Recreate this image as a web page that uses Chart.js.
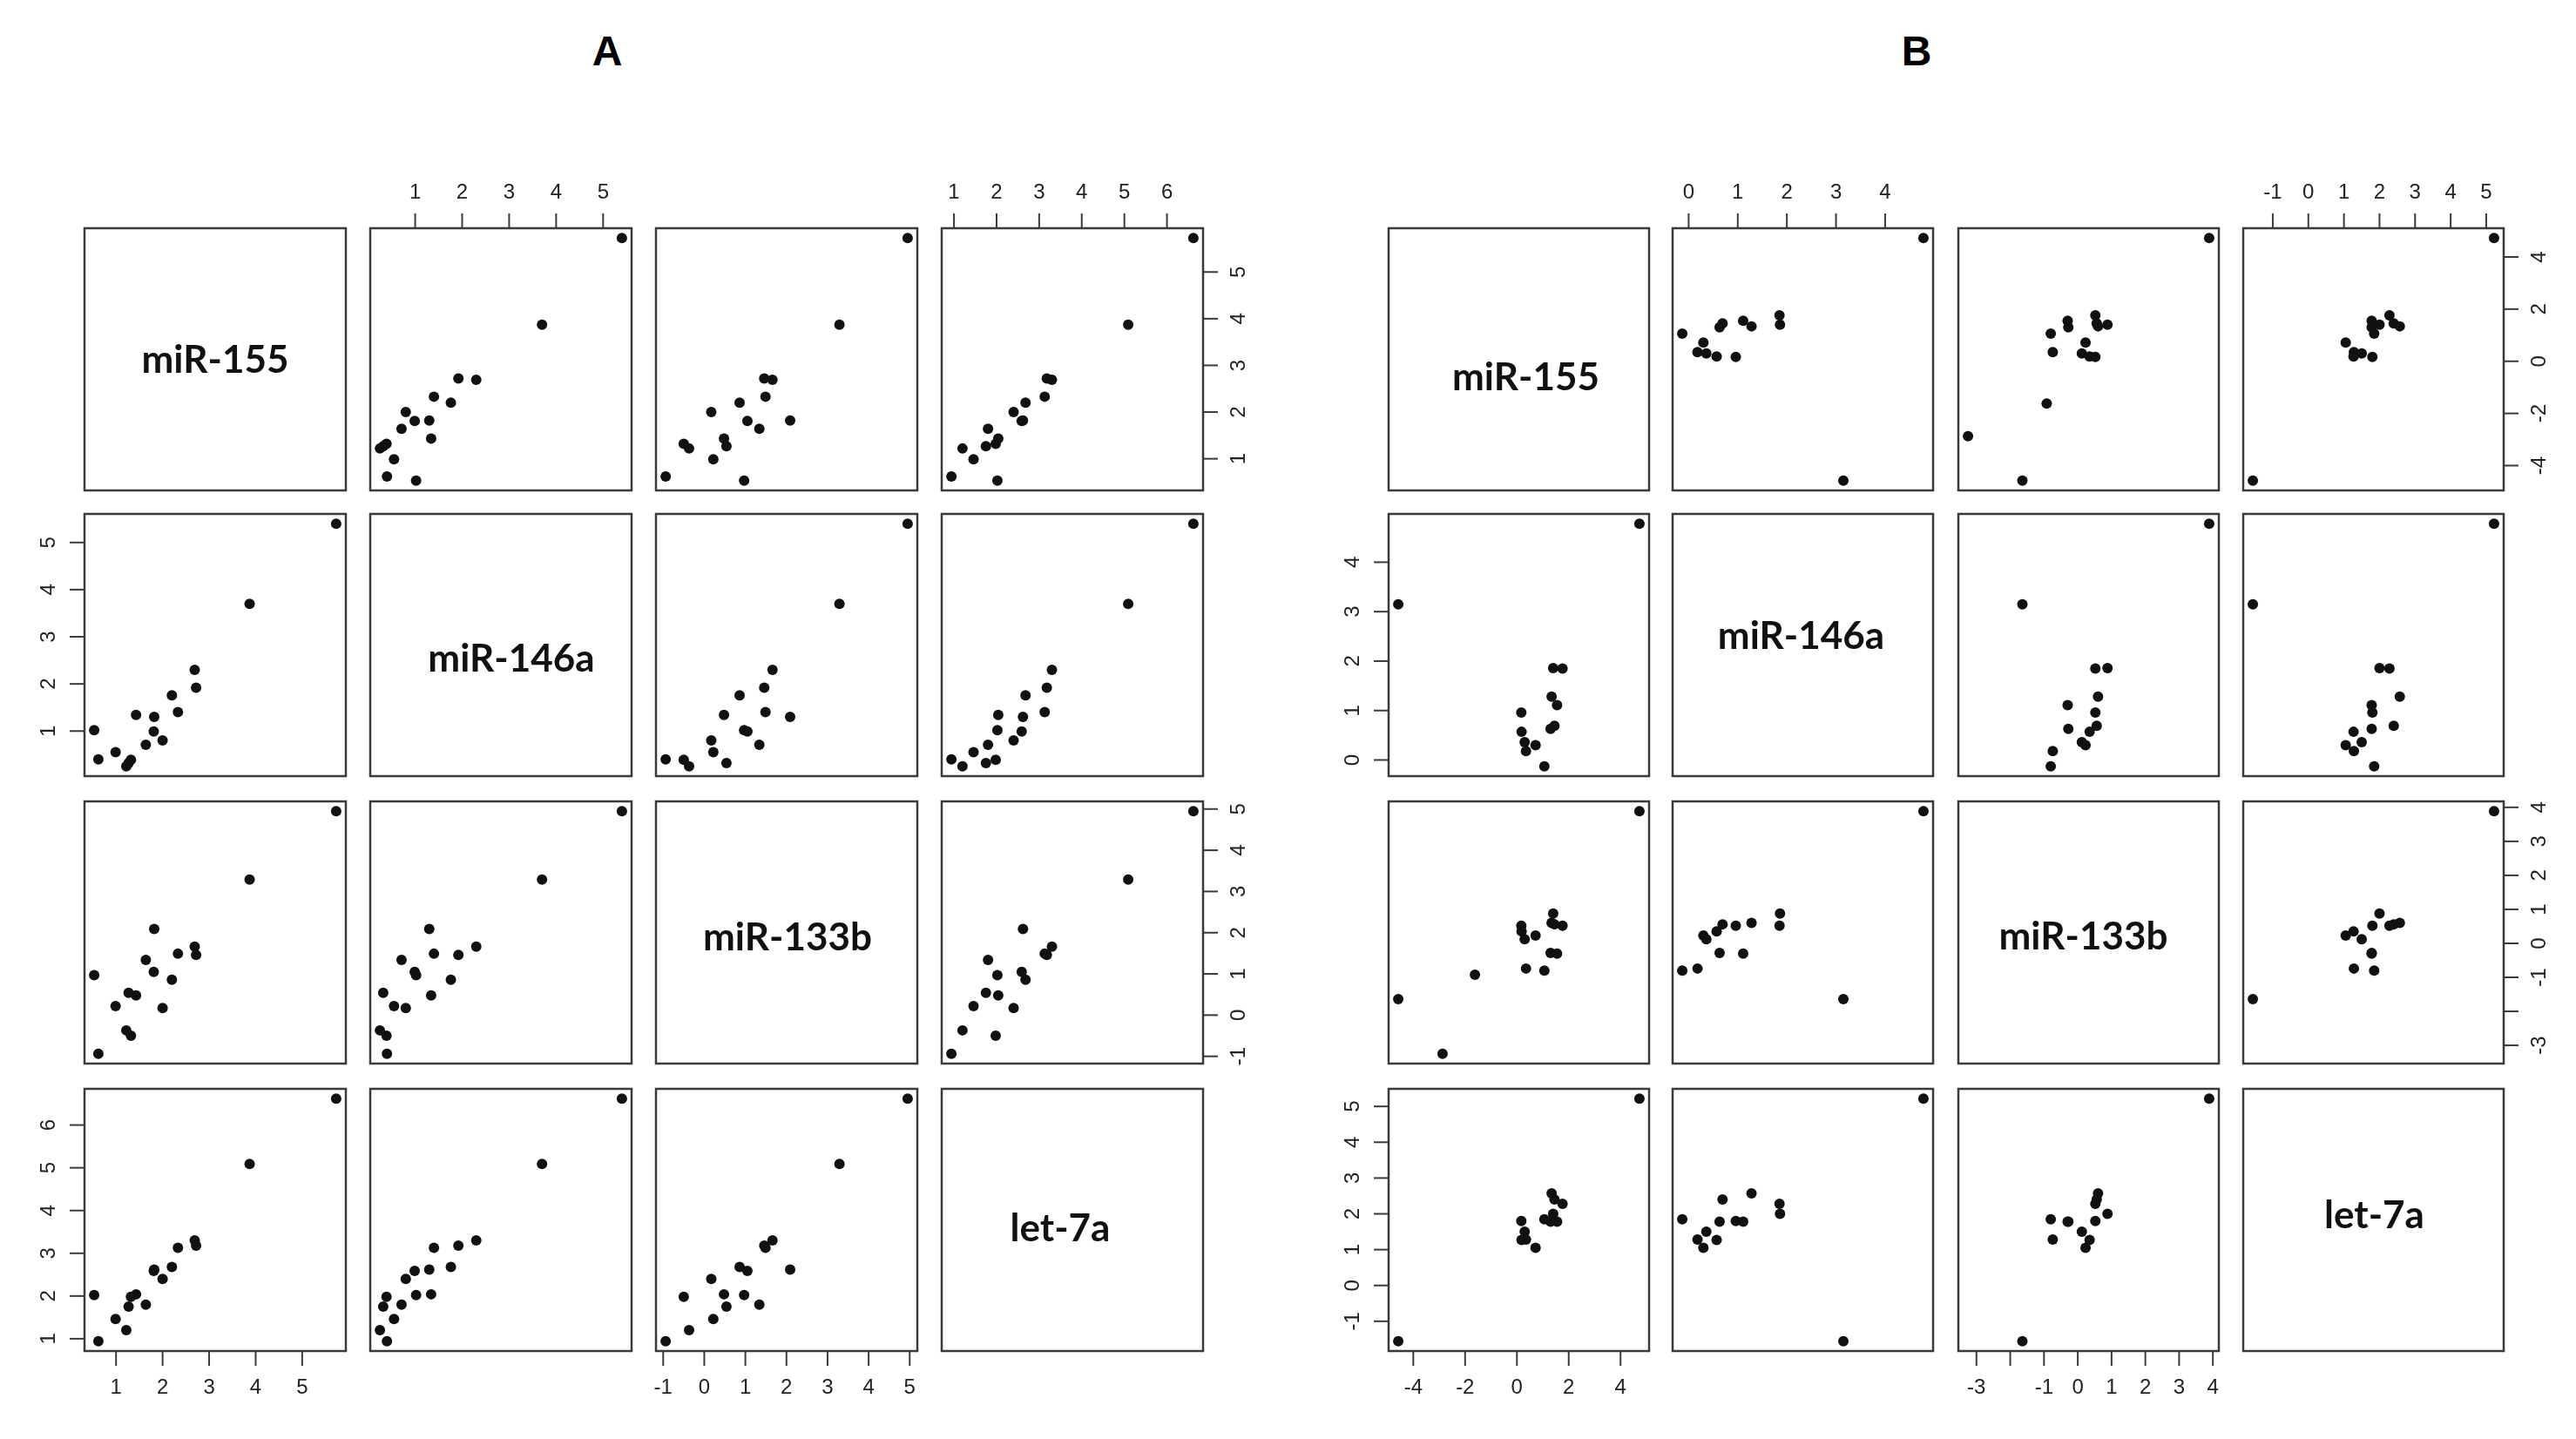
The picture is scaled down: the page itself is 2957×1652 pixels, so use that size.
<!DOCTYPE html>
<html>
<head>
<meta charset="utf-8">
<title>Scatterplot matrices A and B</title>
<script src="https://cdn.jsdelivr.net/npm/chart.js@4.4.1/dist/chart.umd.min.js"></script>
<style>
    html, body { margin: 0; padding: 0; background: #ffffff; }
    #stage { position: relative; width: 2957px; height: 1652px; overflow: hidden; background: #ffffff; }
    .cell { position: absolute; }
    .panel-title {
        position: absolute; transform: translate(-50%, -50%);
        font-family: "Liberation Sans", Arial, sans-serif; font-weight: bold; font-size: 48px; color: #000;
    }
    .diag-label {
        position: absolute; transform: translate(-50%, -50%); white-space: nowrap;
        font-family: Lato, "Open Sans", sans-serif; font-weight: 700; font-size: 44px; color: #111;
    }
</style>
</head>
<body>
<div id="stage"></div>
<script>
// Variable names (same for both panels)
const varNames = ['miR-155', 'miR-146a', 'miR-133b', 'let-7a'];

// Panel A - one value per sample
const a155   = [5.73, 3.87, 2.72, 2.69, 2.33, 2.20, 2.00, 1.81, 1.82, 1.64, 1.43, 1.32, 1.27, 1.22, 0.99, 0.62, 0.53];
const a146a  = [5.40, 3.70, 1.92, 2.30, 1.40, 1.76, 0.80, 0.99, 1.30, 0.71, 1.34, 0.39, 0.32, 0.25, 0.55, 0.40, 1.02];
const a133b  = [4.95, 3.29, 1.46, 1.66, 1.49, 0.86, 0.17, 1.05, 2.09, 1.34, 0.48, -0.50, 0.54, -0.37, 0.22, -0.94, 0.97];
const aLet7a = [6.62, 5.09, 3.18, 3.30, 3.13, 2.68, 2.40, 2.59, 2.62, 1.80, 2.04, 1.98, 1.75, 1.20, 1.46, 0.94, 2.02];

// Panel B - null = value missing for that sample
const b155   = [4.73, -4.58, -2.87, -1.62, 1.06, 0.35, 0.72, 0.30, 0.18, 1.30, 1.45, 0.17, 1.55, 1.34, 1.40, 1.76];
const b146a  = [4.78, 3.15, null, null, -0.13, 0.18, 0.30, 0.36, 0.57, 0.63, 0.69, 0.96, 1.11, 1.28, 1.86, 1.85];
const b133b  = [3.89, -1.64, -3.25, -0.92, -0.80, -0.74, 0.23, 0.12, 0.35, -0.28, 0.56, 0.52, -0.30, 0.60, 0.88, 0.52];
const bLet7a = [5.22, -1.56, null, null, 1.85, 1.28, 1.05, 1.50, 1.27, 1.78, 2.40, 1.80, 1.78, 2.57, 2.00, 2.28];

// Tick values per variable
const aTicks155 = [1, 2, 3, 4, 5];
const aTicks146a = [1, 2, 3, 4, 5];
const aTicks133b = [-1, 0, 1, 2, 3, 4, 5];
const aTicksLet7a = [1, 2, 3, 4, 5, 6];
const bTicks155 = [-4, -2, 0, 2, 4];
const bTicks146a = [0, 1, 2, 3, 4];
const bTicks133b = [-3, -2, -1, 0, 1, 2, 3, 4];
const bTicksLet7a = [-1, 0, 1, 2, 3, 4, 5];
// R drops the "-2" label on this axis because it would overlap
const bTickLabels133b = ['-3', '', '-1', '0', '1', '2', '3', '4'];

const M = 70; // canvas margin around each cell, room for ticks

const panels = [
    {
        title: 'A', titlePos: [697, 58],
        vars: [a155, a146a, a133b, aLet7a],
        ticks: [aTicks155, aTicks146a, aTicks133b, aTicksLet7a],
        tickLabels: [null, null, null, null],
        lefts: [97, 425, 753, 1081], tops: [262, 590, 920, 1250], w: 300, h: 301,
        labelShift: [[0, -2], [12, 13], [1, 3], [-14, 7]]
    },
    {
        title: 'B', titlePos: [2200, 58],
        vars: [b155, b146a, b133b, bLet7a],
        ticks: [bTicks155, bTicks146a, bTicks133b, bTicksLet7a],
        tickLabels: [null, null, bTickLabels133b, null],
        lefts: [1594, 1920, 2248, 2575], tops: [262, 590, 920, 1250], w: 299, h: 301,
        labelShift: [[8, 18], [-2, -13], [-6, 2], [1, -8]]
    }
];

// R style range: data range extended by 4% each side
function padRange(arr) {
    const vals = arr.filter(v => v !== null);
    const lo = Math.min(...vals), hi = Math.max(...vals);
    const pad = (hi - lo) * 0.04;
    return [lo - pad, hi + pad];
}

// Draws the cell box plus outer ticks/labels like R's pairs()
const pairsFrame = {
    id: 'pairsFrame',
    afterDraw: function (chart, args, opts) {
        const ctx = chart.ctx;
        const a = chart.chartArea;
        ctx.save();
        ctx.strokeStyle = '#3a3a3a';
        ctx.lineWidth = 2.5;
        ctx.strokeRect(a.left, a.top, a.right - a.left, a.bottom - a.top);

        ctx.fillStyle = '#222';
        ctx.font = '24px "Liberation Sans", Arial, sans-serif';
        ctx.textAlign = 'center';
        ctx.textBaseline = 'middle';
        ctx.lineWidth = 2;
        (opts.sides || []).forEach(s => {
            const scale = s.pos === 'top' || s.pos === 'bottom' ? chart.scales.x : chart.scales.y;
            s.ticks.forEach((v, k) => {
                const p = scale.getPixelForValue(v);
                const text = s.labels ? s.labels[k] : String(v);
                ctx.beginPath();
                if (s.pos === 'top') {
                    ctx.moveTo(p, a.top); ctx.lineTo(p, a.top - 17); ctx.stroke();
                    ctx.fillText(text, p, a.top - 41);
                } else if (s.pos === 'bottom') {
                    ctx.moveTo(p, a.bottom); ctx.lineTo(p, a.bottom + 17); ctx.stroke();
                    ctx.fillText(text, p, a.bottom + 42);
                } else {
                    const x0 = s.pos === 'left' ? a.left : a.right;
                    const dir = s.pos === 'left' ? -1 : 1;
                    ctx.moveTo(x0, p); ctx.lineTo(x0 + dir * 17, p); ctx.stroke();
                    ctx.save();
                    ctx.translate(x0 + dir * 41, p);
                    ctx.rotate(-Math.PI / 2);
                    ctx.fillText(text, 0, 0);
                    ctx.restore();
                }
            });
        });
        ctx.restore();
    }
};

const stage = document.getElementById('stage');

panels.forEach(panel => {
    const t = document.createElement('div');
    t.className = 'panel-title';
    t.textContent = panel.title;
    t.style.left = panel.titlePos[0] + 'px';
    t.style.top = panel.titlePos[1] + 'px';
    stage.appendChild(t);

    const n = panel.vars.length;
    const ranges = panel.vars.map(padRange);

    for (let i = 0; i < n; i++) {
        for (let j = 0; j < n; j++) {
            const wrap = document.createElement('div');
            wrap.className = 'cell';
            wrap.style.left = (panel.lefts[j] - M) + 'px';
            wrap.style.top = (panel.tops[i] - M) + 'px';
            const canvas = document.createElement('canvas');
            canvas.width = panel.w + 2 * M;
            canvas.height = panel.h + 2 * M;
            wrap.appendChild(canvas);
            stage.appendChild(wrap);

            // which outer axes this cell carries
            const sides = [];
            if (i === 0 && j % 2 === 1) sides.push({ pos: 'top', ticks: panel.ticks[j], labels: panel.tickLabels[j] });
            if (i === n - 1 && j % 2 === 0) sides.push({ pos: 'bottom', ticks: panel.ticks[j], labels: panel.tickLabels[j] });
            if (j === 0 && i % 2 === 1) sides.push({ pos: 'left', ticks: panel.ticks[i], labels: panel.tickLabels[i] });
            if (j === n - 1 && i % 2 === 0) sides.push({ pos: 'right', ticks: panel.ticks[i], labels: panel.tickLabels[i] });

            const points = [];
            if (i !== j) {
                const xs = panel.vars[j], ys = panel.vars[i];
                xs.forEach((x, k) => {
                    if (x !== null && ys[k] !== null) points.push({ x: x, y: ys[k] });
                });
            }

            new Chart(canvas, {
                type: 'scatter',
                data: {
                    datasets: [{
                        data: points,
                        backgroundColor: '#111',
                        borderColor: '#111',
                        borderWidth: 0,
                        pointRadius: 6,
                        pointHoverRadius: 6
                    }]
                },
                options: {
                    responsive: false,
                    animation: false,
                    events: [],
                    layout: { padding: M },
                    plugins: {
                        legend: { display: false },
                        tooltip: { enabled: false },
                        pairsFrame: { sides: sides }
                    },
                    scales: {
                        x: { type: 'linear', display: false, min: ranges[j][0], max: ranges[j][1] },
                        y: { type: 'linear', display: false, min: ranges[i][0], max: ranges[i][1] }
                    }
                },
                plugins: [pairsFrame]
            });

            if (i === j) {
                const lab = document.createElement('div');
                lab.className = 'diag-label';
                lab.textContent = varNames[i];
                lab.style.left = (panel.lefts[j] + panel.w / 2 + panel.labelShift[i][0]) + 'px';
                lab.style.top = (panel.tops[i] + panel.h / 2 + panel.labelShift[i][1]) + 'px';
                stage.appendChild(lab);
            }
        }
    }
});
</script>
</body>
</html>
